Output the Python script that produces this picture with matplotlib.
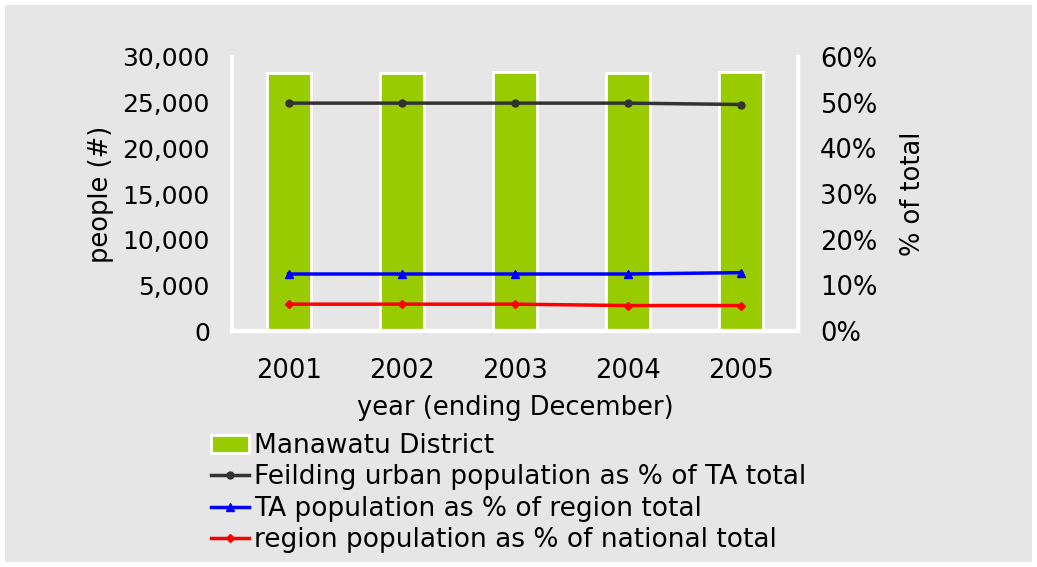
import matplotlib.pyplot as plt
import numpy as np

# data
years = ['2001', '2002', '2003', '2004', '2005']
manawatu_pop = [28200, 28200, 28400, 28200, 28400]
feilding_pct = [49.9, 49.9, 49.9, 49.9, 49.6]
ta_pct = [12.5, 12.5, 12.5, 12.5, 12.8]
region_pct = [5.9, 5.9, 5.9, 5.6, 5.6]

bg = '#e6e6e6'
fs = 18.5
plt.rcParams['font.family'] = 'DejaVu Sans'

fig = plt.figure(figsize=(10.37, 5.67), dpi=100)
fig.patch.set_facecolor(bg)
fig.patch.set_edgecolor('white')
fig.patch.set_linewidth(7)

ax1 = fig.add_axes([0.2237, 0.416, 0.5458, 0.4835])
ax1.set_facecolor(bg)
x = np.arange(len(years))

bars = ax1.bar(x, manawatu_pop, width=0.39, color='#99cc00', edgecolor='white',
               linewidth=2, label='Manawatu District', zorder=2)
ax1.set_ylim(0, 30000)
ax1.set_xlim(-0.5, len(years) - 0.5)
ax1.set_yticks(range(0, 30001, 5000))
ax1.set_yticklabels([f'{v:,}' for v in range(0, 30001, 5000)])
ax1.set_xticks(x)
ax1.set_xticklabels(years)
ax1.set_ylabel('people (#)', fontsize=fs, labelpad=6)
ax1.set_xlabel('year (ending December)', fontsize=fs, labelpad=8)

ax2 = ax1.twinx()
l1, = ax2.plot(x, feilding_pct, color='#333333', lw=2.5, marker='o', ms=5,
               label='Feilding urban population as % of TA total', zorder=3)
l2, = ax2.plot(x, ta_pct, color='#0000ff', lw=2.5, marker='^', ms=6,
               label='TA population as % of region total', zorder=3)
l3, = ax2.plot(x, region_pct, color='#ff0000', lw=2.5, marker='D', ms=4,
               label='region population as % of national total', zorder=3)
ax2.set_ylim(0, 60)
ax2.set_yticks(range(0, 61, 10))
ax2.set_yticklabels([f'{v}%' for v in range(0, 61, 10)])
ax2.set_ylabel('% of total', fontsize=fs, labelpad=16)

for ax in (ax1, ax2):
    for side in ('left', 'right', 'bottom', 'top'):
        ax.spines[side].set_color('white')
        ax.spines[side].set_linewidth(3)
    ax.spines['top'].set_visible(False)
    ax.tick_params(length=0, labelsize=fs, pad=16)
ax1.tick_params(axis='y', pad=16, labelsize=18)
ax1.tick_params(axis='x', pad=19)

fig.legend(handles=[bars, l1, l2, l3], loc='upper left',
           bbox_to_anchor=(0.203, 0.236), frameon=False, fontsize=19,
           handlelength=1.45, handletextpad=0.2, labelspacing=0.2,
           borderaxespad=0, borderpad=0)

fig.savefig('out.png', dpi=100, facecolor=fig.get_facecolor(), edgecolor='white')
